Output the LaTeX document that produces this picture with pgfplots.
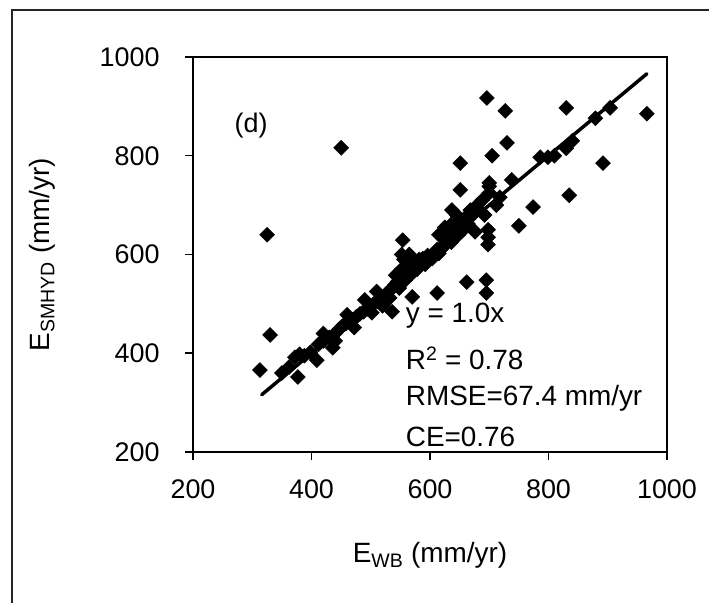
\documentclass[border=0pt]{standalone}
\usepackage{pgfplots}
\pgfplotsset{compat=1.18}
\usepackage{fontspec}
\setmainfont{Liberation Sans}

% E_WB (x) vs E_SMHYD (y), mm/yr
\pgfplotstableread{
x y
313 366
330 437
325 640
350 360
362 372
372 392
377 352
380 398
388 395
398 402
409 386
412 418
420 425
420 440
430 432
436 411
440 440
440 425
446 448
450 816
452 455
458 460
460 478
463 465
470 468
472 452
476 474
482 480
488 484
490 508
495 490
500 496
502 482
505 500
510 525
512 505
518 512
520 496
522 508
526 520
530 525
532 512
536 484
535 530
540 538
542 558
545 545
548 532
550 552
552 570
552 600
554 629
555 560
556 590
558 548
560 565
565 575
565 600
568 560
570 580
570 514
575 585
578 570
582 590
588 592
592 580
596 598
600 595
604 592
608 600
612 610
612 522
615 602
615 640
620 612
624 620
625 655
628 630
632 640
635 660
636 625
637 690
640 650
640 640
644 660
645 680
648 640
651 731
651 785
652 668
656 650
660 675
662 544
664 662
668 690
672 680
676 646
680 700
684 690
688 710
692 680
695 548
695 522
696 917
698 620
698 635
698 650
700 725
700 745
700 738
705 800
712 700
718 716
727 891
730 826
738 751
750 658
774 696
786 797
799 797
810 800
830 815
830 897
835 720
840 830
879 876
892 785
904 897
966 885
}\ewb

\begin{document}
\begin{tikzpicture}
\begin{axis}[
    name=ax,
    scale only axis,
    width=474bp, height=395bp,
    xmin=200, xmax=1000, ymin=200, ymax=1000,
    xtick={200,400,...,1000}, ytick={200,400,...,1000},
    tick align=outside, tick pos=left,
    major tick length=8bp,
    axis line style={line width=1.8bp},
    every tick/.style={black, line width=1.5bp},
    /pgf/number format/assume math mode=true,
    /pgf/number format/1000 sep={},
    ticklabel style={font=\fontsize{27}{32}\selectfont},
    xticklabel shift=16bp,
    yticklabel shift=22bp,
    xlabel={E\textsubscript{WB} (mm/yr)},
    ylabel={E\textsubscript{SMHYD} (mm/yr)},
    label style={font=\fontsize{28}{32}\selectfont},
    x label style={at={(axis description cs:0.5,-0.2608)}, anchor=center},
    y label style={at={(axis description cs:-0.3186,0.5)}, anchor=center},
    clip=false,
]
\addplot[only marks, mark=square*, mark size=5.3bp,
    mark options={rotate=45, fill=black, draw=black}] table[x=x, y=y] {\ewb};
\addplot[black, line width=3.5bp, line cap=round] coordinates {(316,316) (966,966)};
\node[anchor=center, font=\fontsize{27}{30}\selectfont] at (axis cs:298,862) {(d)};
\node[anchor=west, inner sep=0pt, font=\fontsize{28}{32}\selectfont] at (axis cs:559,477) {y = 1.0x};
\node[anchor=west, inner sep=0pt, font=\fontsize{28}{32}\selectfont] at (axis cs:559,390) {R\textsuperscript{2} = 0.78};
\node[anchor=west, inner sep=0pt, font=\fontsize{28}{32}\selectfont] at (axis cs:559,309) {RMSE=67.4 mm/yr};
\node[anchor=west, inner sep=0pt, font=\fontsize{28}{32}\selectfont] at (axis cs:559,230) {CE=0.76};
\end{axis}
\draw[line width=2bp, black!85] ([shift={(-181bp,-160bp)}]ax.south west)
    -- ([shift={(-181bp,442bp)}]ax.south west)
    -- ([shift={(530bp,442bp)}]ax.south west);
\pgfresetboundingbox
\useasboundingbox ([shift={(-193bp,-151bp)}]ax.south west)
    rectangle ([shift={(42bp,57bp)}]ax.north east);
\end{tikzpicture}
\end{document}
